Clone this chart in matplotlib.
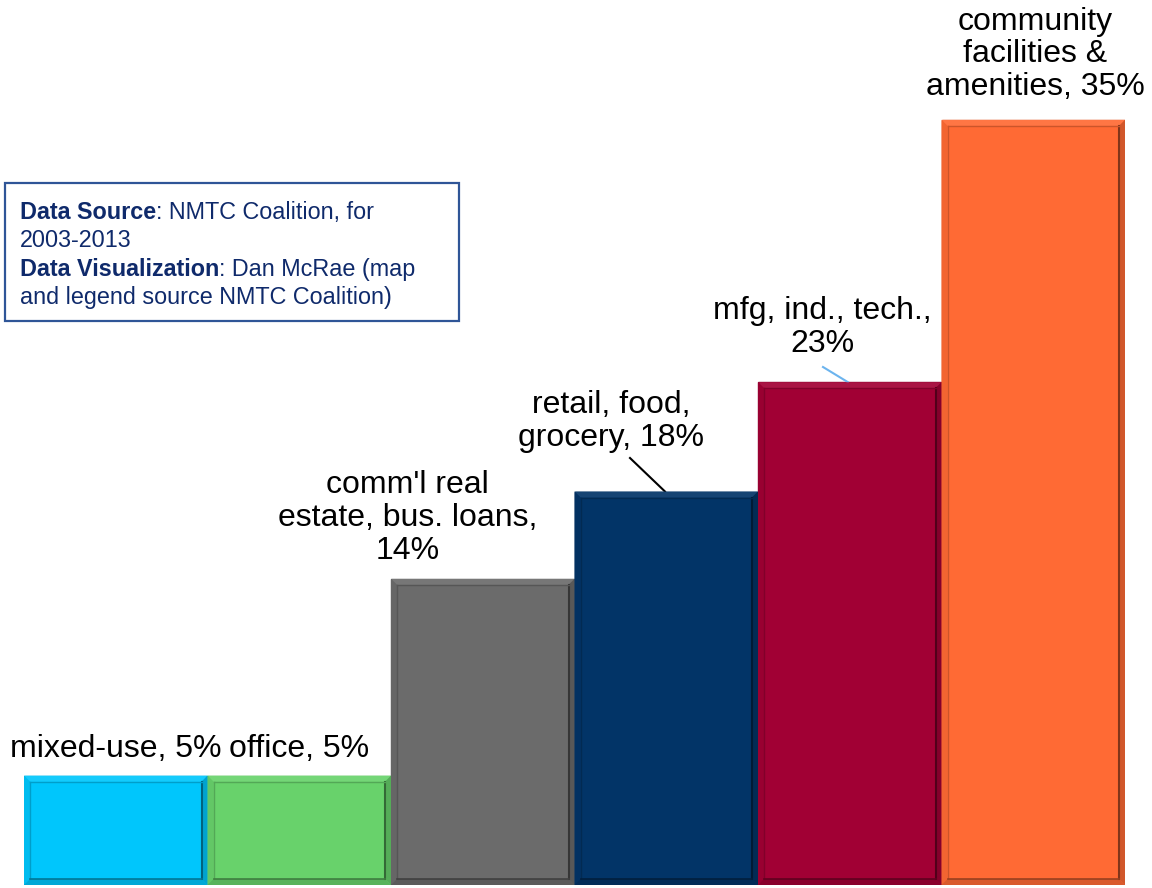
import matplotlib.pyplot as plt
import matplotlib.colors as mcolors
from matplotlib.patches import Polygon, Rectangle
from matplotlib.text import Annotation
import numpy as np

plt.rcParams['font.family'] = ['Liberation Sans', 'DejaVu Sans']

categories = ["mixed-use,", "office,", "comm'l real\nestate, bus. loans,",
              "retail, food,\ngrocery,", "mfg, ind., tech.,", "community\nfacilities &\namenities,"]
breaks = [" ", " ", "\n", " ", "\n", " "]
shares = [5, 5, 14, 18, 23, 35]
colors = ["#00C6FC", "#68D26B", "#6B6B6B", "#023467", "#A10034", "#FF6A34"]

# label anchor points (bar units, % units)
label_x = [0.0, 1.0, 1.59, 2.70, 3.85, 5.01]
label_y = [6.2, 6.2, 16.8, 21.2, 25.5, 38.0]


def shade(c, f):
    r, g, b = mcolors.to_rgb(c)
    if f < 1:
        return (r * f, g * f, b * f)
    return (r + (1 - r) * (f - 1), g + (1 - g) * (f - 1), b + (1 - b) * (f - 1))


fig = plt.figure(figsize=(11.52, 8.88), dpi=100)
ax = fig.add_axes([24 / 1152, 3 / 888, 1101 / 1152, 885 / 888])
ax.set_xlim(-0.5, 5.5)
ax.set_ylim(0, 885 / 21.86)
ax.axis('off')

x = np.arange(len(shares))
ax.bar(x, shares, width=1.0, color=colors, edgecolor=[shade(c, 0.85) for c in colors], linewidth=1.0)

# bevelled edges on each bar
dx = 6 / 183.5
dy = 6 / 21.86
for xi, v, c in zip(x, shares, colors):
    l, r, t, b = xi - 0.5, xi + 0.5, v, 0
    faces = [
        ([(l, t), (r, t), (r - dx, t - dy), (l + dx, t - dy)], shade(c, 1.08)),
        ([(l, b), (l, t), (l + dx, t - dy), (l + dx, b + dy)], shade(c, 0.95)),
        ([(r, b), (r, t), (r - dx, t - dy), (r - dx, b + dy)], shade(c, 0.82)),
        ([(l, b), (r, b), (r - dx, b + dy), (l + dx, b + dy)], shade(c, 0.85)),
    ]
    for pts, fc in faces:
        ax.add_patch(Polygon(pts, closed=True, facecolor=fc, edgecolor='none', zorder=3))
    ax.plot([r - dx, r - dx], [b + dy, t - dy], color=shade(c, 0.5), lw=1.5, zorder=4)
    ax.plot([l + dx, l + dx], [b + dy, t - dy], color=shade(c, 0.8), lw=1.0, zorder=4)
    ax.plot([l + dx, r - dx], [t - dy, t - dy], color=shade(c, 0.8), lw=1.0, zorder=4)
    ax.plot([l + dx, r - dx], [b + dy, b + dy], color=shade(c, 0.6), lw=1.2, zorder=4)

for cat, sep, v, lx, ly in zip(categories, breaks, shares, label_x, label_y):
    ax.text(lx, ly, f"{cat}{sep}{v}%", ha='center', va='center', fontsize=23,
            linespacing=1.12, color='black')

# leader lines
ax.plot([(630 - 24) / 183.5 - 0.5, (665 - 24) / 183.5 - 0.5],
        [(885 - 458) / 21.86, shares[3]], color='black', lw=1.5)
ax.plot([(823 - 24) / 183.5 - 0.5, (848 - 24) / 183.5 - 0.5],
        [(885 - 367) / 21.86, shares[4]], color='#6CB4EE', lw=1.5)

# source box
fig.add_artist(Rectangle((5 / 1152, (888 - 321) / 888), 454 / 1152, 138 / 888,
                         transform=fig.transFigure, facecolor='white',
                         edgecolor='#2F5597', linewidth=1.6, zorder=1))
navy = '#0F2A6B'
lines = [("Data Source", ": NMTC Coalition, for"),
         ("", "2003-2013"),
         ("Data Visualization", ": Dan McRae (map"),
         ("", "and legend source NMTC Coalition)")]
baselines = [219, 247, 276, 304]
fs = 16.8
for (bold, rest), yb in zip(lines, baselines):
    pos = (20 / 1152, (888 - yb) / 888)
    if bold:
        t = fig.text(*pos, bold, fontsize=fs, fontweight='bold', color=navy,
                     va='baseline', zorder=2)
        ann = Annotation(rest, xy=(1, 0), xycoords=t, xytext=(1, 0), textcoords=t,
                         va='bottom', ha='left', fontsize=fs, color=navy,
                         annotation_clip=False, zorder=2)
        fig.add_artist(ann)
    else:
        fig.text(*pos, rest, fontsize=fs, color=navy, va='baseline', zorder=2)

fig.savefig("out.png", dpi=100)
